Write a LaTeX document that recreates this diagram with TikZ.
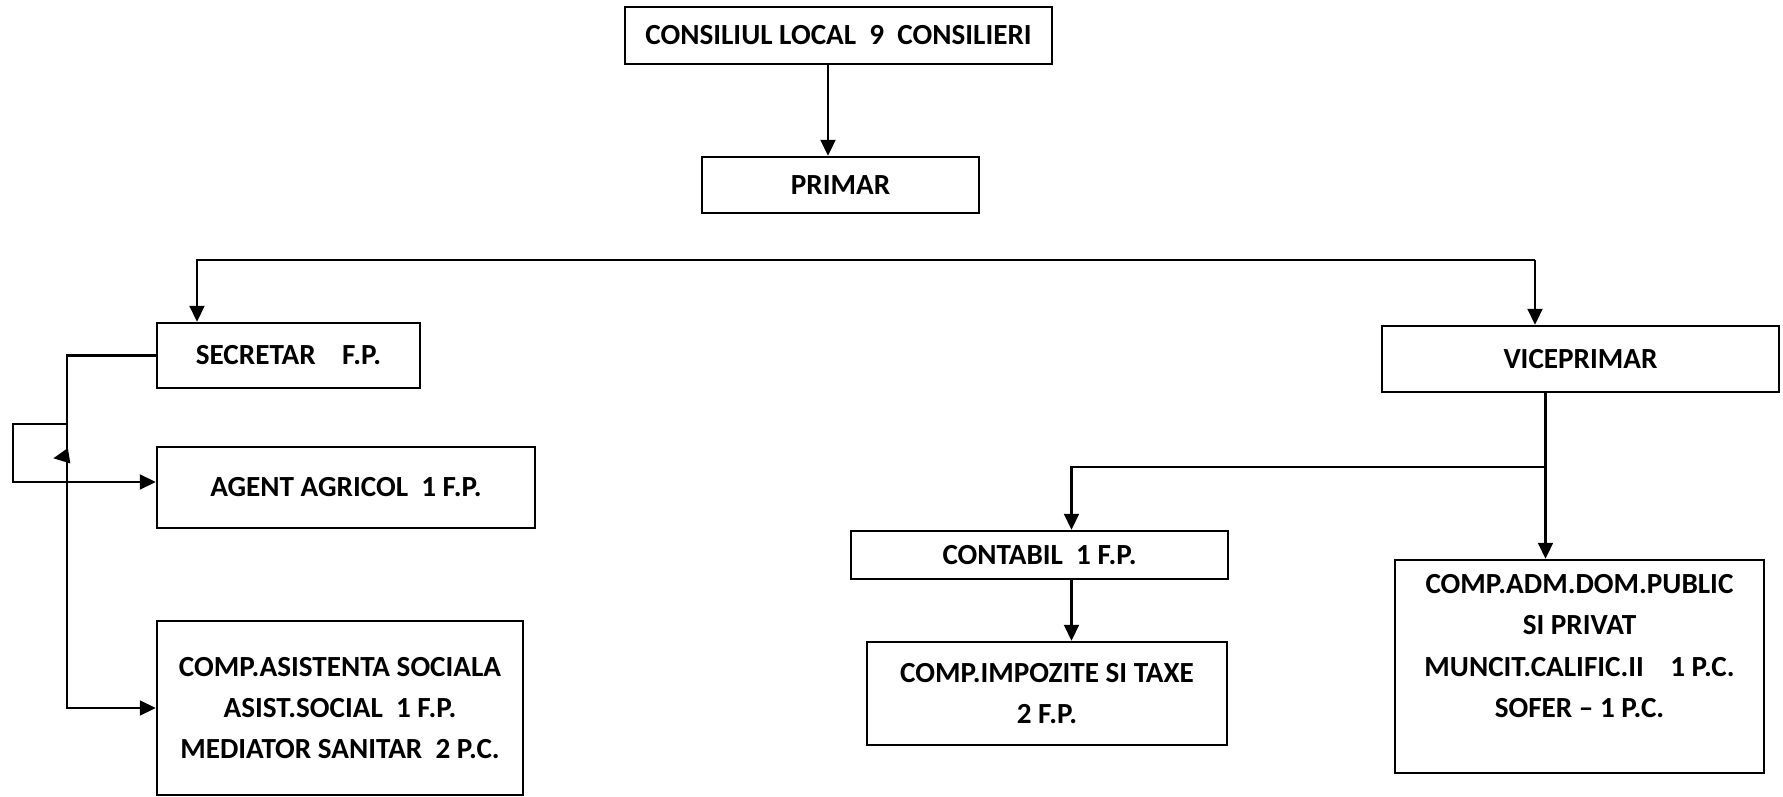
\documentclass[tikz,border=0pt]{standalone}
\usepackage{fontspec}
\setmainfont{Carlito}
\usetikzlibrary{arrows.meta}

\begin{document}
\begin{tikzpicture}[
	box/.style={draw, line width=0.7pt, align=center, inner sep=0pt,
		font=\bfseries\fontsize{8.3}{11.7}\selectfont},
	arr/.style={-{Triangle[length=0.16cm,width=0.15cm]}, line width=0.6pt}]
	\useasboundingbox (0,0) rectangle (17.83,-7.97);
	
	% Council and mayor
	\node[box, minimum width=4.27cm, minimum height=0.57cm] (cons) at (8.385,-0.355) {CONSILIUL LOCAL~~9~~CONSILIERI};
	\node[box, minimum width=2.77cm, minimum height=0.56cm] (primar) at (8.405,-1.85) {PRIMAR};
	\draw[arr] ([xshift=-0.105cm]cons.south) -- ([xshift=-0.125cm]primar.north);
	
	% Left branch
	\node[box, minimum width=2.63cm, minimum height=0.65cm] (secretar) at (2.885,-3.555) {SECRETAR~~~~F.P.};
	\node[box, minimum width=3.78cm, minimum height=0.81cm] (agent) at (3.46,-4.875) {AGENT AGRICOL~~1 F.P.};
	\node[box, minimum width=3.66cm, minimum height=1.74cm] (asist) at (3.40,-7.08) {COMP.ASISTENTA SOCIALA\\ASIST.SOCIAL~~1 F.P.\\MEDIATOR SANITAR~~2 P.C.};
	
	% Right branch
	\node[box, minimum width=3.97cm, minimum height=0.66cm] (vice) at (15.805,-3.59) {VICEPRIMAR};
	\node[box, minimum width=3.77cm, minimum height=0.48cm] (contabil) at (10.395,-5.55) {CONTABIL~~1 F.P.};
	\node[box, minimum width=3.60cm, minimum height=1.03cm] (impoz) at (10.47,-6.935) {COMP.IMPOZITE SI TAXE\\2 F.P.};
	\node[box, minimum width=3.69cm, minimum height=2.13cm] (adm) at (15.795,-6.665) {COMP.ADM.DOM.PUBLIC\\SI PRIVAT\\MUNCIT.CALIFIC.II~~~~1 P.C.\\SOFER -- 1 P.C.\\ \mbox{}};
	
	% Bus under the mayor
	\coordinate (busL) at (1.97,-2.60);
	\coordinate (busR) at (15.35,-2.60);
	\draw[arr] (busR) -- (busL) -- (busL |- secretar.north);
	\draw[arr] (busR) -- (busR |- vice.north);
	
	% Secretary links
	\coordinate (jL) at (0.68,-4.24);
	\draw[arr] (secretar.west) -- ++(-0.89,0) |- (asist.west);
	\draw[arr] (jL) -- ++(-0.55,0) |- ([yshift=0.055cm]agent.west);
	\draw[arr] (0.675,-4.56) -- (0.533,-4.583);
	
	% Viceprimar links
	\coordinate (vj) at (15.455,-4.67);
	\coordinate (cj) at (10.715,-4.67);
	\draw[arr] (vj |- vice.south) -- (vj |- adm.north);
	\draw[arr] (vj) -| (contabil.north -| cj);
	\draw[arr] (cj |- contabil.south) -- (cj |- impoz.north);
\end{tikzpicture}
\end{document}
